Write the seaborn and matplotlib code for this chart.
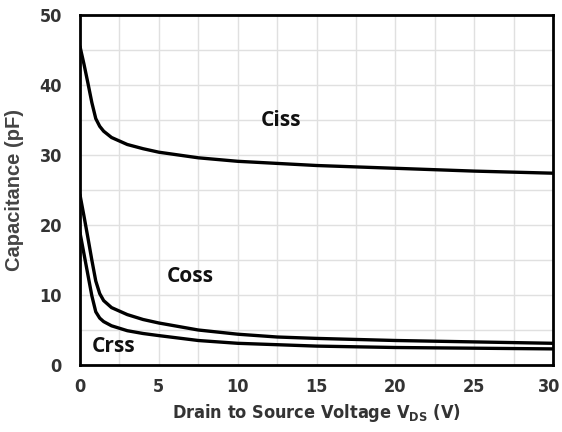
import matplotlib
matplotlib.use("Agg")
import matplotlib.pyplot as plt
import matplotlib.transforms as mtransforms
import seaborn as sns
import pandas as pd
from matplotlib.ticker import MultipleLocator

vds = [0, 0.25, 0.5, 0.75, 1, 1.25, 1.5, 2, 3, 4, 5, 7.5, 10, 12.5, 15, 20, 25, 30]
ciss = [45.5, 43.0, 40.3, 37.5, 35.2, 34.1, 33.4, 32.5, 31.5, 30.9, 30.4, 29.6, 29.1, 28.8, 28.5, 28.1, 27.7, 27.4]
coss = [24.3, 21.3, 18.2, 15.0, 12.0, 10.2, 9.2, 8.2, 7.2, 6.5, 6.0, 5.0, 4.4, 4.0, 3.8, 3.5, 3.3, 3.1]
crss = [18.9, 15.9, 12.9, 9.9, 7.6, 6.7, 6.2, 5.6, 4.9, 4.5, 4.2, 3.5, 3.1, 2.9, 2.7, 2.5, 2.4, 2.3]
x_ticks = [0, 5, 10, 15, 20, 25, 30]
y_ticks = [0, 10, 20, 30, 40, 50]
series_names = ["Ciss", "Coss", "Crss"]

sns.set_theme(style="white")
plt.rcParams['font.family'] = ['DejaVu Sans']

df = pd.DataFrame({"vds": vds * 3,
                   "cap": ciss + coss + crss,
                   "series": [series_names[0]] * len(vds) + [series_names[1]] * len(vds)
                   + [series_names[2]] * len(vds)})

fig = plt.figure(figsize=(5.62, 4.32), dpi=100)
ax = fig.add_axes([80 / 562, 67 / 432, 473 / 562, 350 / 432])
sns.lineplot(data=df, x="vds", y="cap", units="series", estimator=None,
             color="black", linewidth=2.4, ax=ax, legend=False)

ax.set_xlim(0, 30)
ax.set_ylim(0, 50)
ax.set_xticks(x_ticks)
ax.set_yticks(y_ticks)
ax.xaxis.set_minor_locator(MultipleLocator(2.5))
ax.yaxis.set_minor_locator(MultipleLocator(5))
ax.grid(True, which="both", color="#e0e0e0", linewidth=1)
ax.set_axisbelow(True)
for s in ax.spines.values():
    s.set_color("black")
    s.set_linewidth(2)
ax.tick_params(axis="x", which="both", length=0, labelsize=13, labelcolor="#333333", pad=9)
ax.tick_params(axis="y", which="both", length=0, labelsize=13, labelcolor="#333333", pad=13)
for lbl in ax.get_xticklabels() + ax.get_yticklabels():
    lbl.set_fontweight("bold")
    lbl.set_fontstretch("condensed")
last = ax.get_xticklabels()[-1]
last.set_transform(last.get_transform() + mtransforms.ScaledTranslation(-4 / 100, 0, fig.dpi_scale_trans))

ax.set_xlabel("Drain to Source Voltage V$_{\\mathregular{DS}}$ (V)", fontsize=13,
              fontweight="bold", color="#333333", labelpad=5, fontstretch="condensed")
ax.set_ylabel("Capacitance (pF)", fontsize=14.5, fontweight="bold", color="#444444",
              family=["Liberation Sans", "DejaVu Sans"])
ax.yaxis.set_label_coords(-56 / 473, 0.5)

label_pos = [(12.75, 35.0), (6.97, 12.6), (2.12, 2.6)]
for name, (lx, ly) in zip(series_names, label_pos):
    ax.text(lx, ly, name, fontsize=15, fontweight="bold", ha="center", va="center",
            color="#111111", family=["Open Sans", "DejaVu Sans"])

fig.savefig("out.png", dpi=100)
